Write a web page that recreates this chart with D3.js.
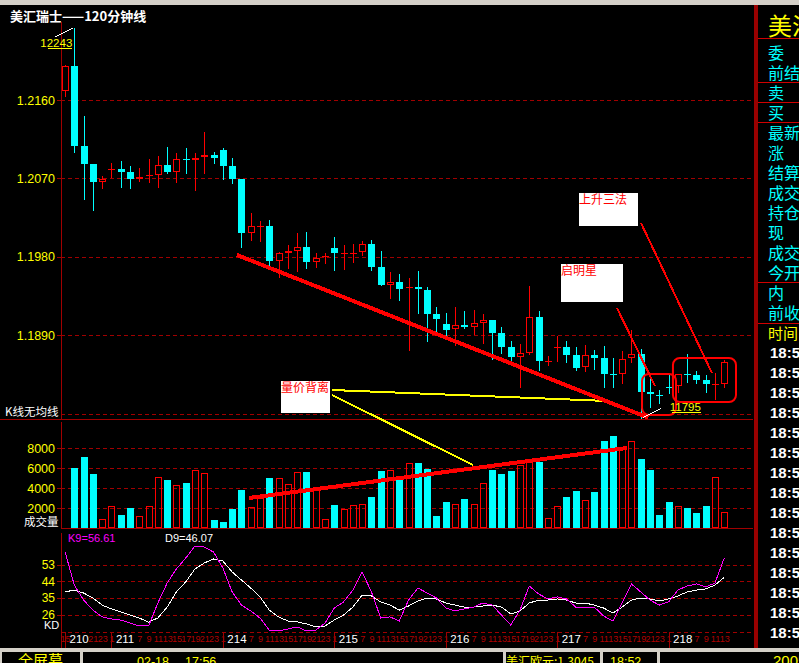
<!DOCTYPE html>
<html><head><meta charset="utf-8">
<script src="https://cdn.jsdelivr.net/npm/d3@7"></script>
<style>
html,body{margin:0;padding:0;background:#000;overflow:hidden}
svg{display:block}
</style></head><body>
<svg id="c" width="799" height="663"></svg>
<script>
// ---------------- data ----------------
const chartTitle = "美汇瑞士——120分钟线";
const open  = [1.2170,1.2199,1.2107,1.2086,1.2066,1.2080,1.2081,1.2077,1.2069,1.2073,1.2074,1.2085,1.2077,1.2092,1.2091,1.2095,1.2097,1.2103,1.2084,1.2069,1.2007,1.2015,1.2015,1.1975,1.1984,1.1987,1.1991,1.1974,1.1980,1.1990,1.1984,1.1984,1.1985,1.1995,1.1968,1.1947,1.1951,1.1944,1.1945,1.1942,1.1914,1.1903,1.1897,1.1901,1.1899,1.1904,1.1907,1.1892,1.1876,1.1865,1.1869,1.1911,1.1860,1.1876,1.1876,1.1867,1.1853,1.1867,1.1864,1.1845,1.1845,1.1864,1.1868,1.1825,1.1821,1.1830,1.1831,1.1845,1.1844,1.1838,1.1833,1.1834];
const high  = [1.2200,1.2243,1.2142,1.2086,1.2073,1.2088,1.2090,1.2084,1.2082,1.2092,1.2096,1.2106,1.2099,1.2105,1.2099,1.2123,1.2100,1.2105,1.2093,1.2069,1.2030,1.2021,1.2022,1.1985,1.1993,1.2007,1.2008,1.1984,1.1984,1.2003,1.1993,1.1995,1.1998,1.1999,1.1987,1.1962,1.1960,1.1955,1.1964,1.1945,1.1922,1.1915,1.1922,1.1918,1.1919,1.1914,1.1907,1.1899,1.1883,1.1880,1.1946,1.1918,1.1866,1.1889,1.1883,1.1876,1.1878,1.1873,1.1877,1.1864,1.1872,1.1896,1.1874,1.1841,1.1827,1.1844,1.1845,1.1868,1.1849,1.1844,1.1846,1.1861];
const low   = [1.2165,1.2100,1.2046,1.2034,1.2059,1.2072,1.2060,1.2059,1.2067,1.2066,1.2060,1.2076,1.2066,1.2076,1.2057,1.2076,1.2088,1.2069,1.2065,1.1991,1.1999,1.1998,1.1970,1.1957,1.1967,1.1964,1.1967,1.1968,1.1973,1.1965,1.1966,1.1974,1.1982,1.1965,1.1947,1.1932,1.1930,1.1873,1.1915,1.1883,1.1892,1.1889,1.1878,1.1898,1.1891,1.1881,1.1862,1.1869,1.1860,1.1830,1.1868,1.1850,1.1855,1.1860,1.1859,1.1850,1.1849,1.1851,1.1830,1.1830,1.1835,1.1859,1.1795,1.1807,1.1812,1.1823,1.1825,1.1836,1.1835,1.1825,1.1816,1.1830];
const close = [1.2199,1.2107,1.2086,1.2066,1.2069,1.2081,1.2077,1.2069,1.2072,1.20735,1.2085,1.2077,1.2092,1.20915,1.2093,1.2097,1.2093,1.2084,1.2069,1.2007,1.2015,1.20155,1.1975,1.1984,1.1987,1.1991,1.1974,1.1978,1.19805,1.1984,1.19845,1.19845,1.1995,1.1968,1.1947,1.1951,1.1943,1.1945,1.1943,1.1914,1.1908,1.1896,1.1901,1.1899,1.1904,1.1907,1.1892,1.1876,1.1865,1.1869,1.1911,1.1860,1.18605,1.18765,1.1867,1.1852,1.1867,1.1864,1.1845,1.18445,1.1862,1.1868,1.1825,1.1822,1.18205,1.18295,1.1845,1.18445,1.1838,1.1834,1.18335,1.1859];
const volume = [0,6030,7130,5430,900,2200,1330,2030,1200,2200,5100,4830,4300,4500,5800,5500,830,630,1930,3830,2100,3000,5030,5000,4400,5600,5630,4000,900,2300,1900,2270,2370,3130,5700,5800,4800,6470,6470,5900,1230,2600,2370,2900,2370,4470,5800,5400,5700,6270,6630,6630,970,2200,3130,3700,2800,3630,8700,9200,8100,8700,6900,5800,1300,2600,2200,2030,1530,2200,5070,1570];
const kValues = [59.9,41.9,33.8,28.4,24.7,23.6,23.0,21.4,19.8,19.8,32.2,43.0,50.6,56.5,63.0,62.4,59.7,51.1,38.2,31.1,27.9,24.1,17.6,17.1,18.2,19.3,17.1,17.6,21.4,29.5,32.8,39.2,49.0,38.2,24.1,24.7,22.5,33.8,40.3,37.6,34.9,29.5,27.9,29.0,30.0,32.2,31.1,25.7,20.3,28.4,41.4,37.1,34.4,35.5,34.4,30.0,30.0,30.0,25.2,22.5,32.2,42.5,38.2,33.8,31.1,32.8,39.2,41.4,42.5,40.9,43.0,56.61];
const dValues = [38.2,39.2,37.6,34.9,31.1,29.0,27.4,25.7,24.1,21.9,24.1,30.0,38.2,43.6,50.6,53.8,56.0,54.9,49.0,44.6,40.3,35.5,28.4,24.7,22.5,22.0,20.9,19.3,19.8,23.0,25.7,30.0,36.5,36.0,32.8,31.1,28.4,30.6,33.3,34.9,34.4,32.2,31.1,30.0,30.0,30.6,31.1,30.0,26.3,27.9,32.2,33.8,33.8,34.4,33.8,32.2,32.2,31.1,29.5,26.8,30.0,33.8,34.9,34.4,33.3,34.4,36.0,38.2,39.2,39.8,41.9,46.07];
const priceTicks  = [1.2160,1.2070,1.1980,1.1890];
const volumeTicks = [8000,6000,4000,2000];
const kdTicks     = [53,44,35,26];
const dayStarts = [0,5,17,29,41,53,65];
const dayLabels = ["210","211","214","215","216","217","218"];
const hourTicks = ["1","3","5","7","9","11","13","15","17","19","21","23"];
// annotations (data units: candle index, price or volume)
const priceTrend  = [[18.5,1.1982],[62.8,1.1795]];
const volumeTrend = [[19.8,3000],[60.5,8000]];
const yellowPrice = [[28.75,1.18268],[58.37,1.18142]];
const yellowVol   = [[28.75,13300],[43.94,6300]];
const noteArrows  = [[[59.44,1.19210],[63.54,1.18314]],[[62.03,1.20187],[69.67,1.18463]]];
const noteBoxes = [
  {text:"量价背离", i0:23.26, p0:1.18371, i1:28.54, p1:1.18004},
  {text:"启明星",   i0:53.41, p0:1.19716, i1:60.09, p1:1.19279},
  {text:"上升三法", i0:55.35, p0:1.20531, i1:61.71, p1:1.20152}
];
const focusBoxes = [
  {i0:62.14, p0:1.18452, i1:65.80, p1:1.17981},
  {i0:65.47, p0:1.18636, i1:72.26, p1:1.18130}
];
const quoteLabels = ["委","前结","卖","买","最新","涨","结算","成交","持仓","现","成交","今开","内","前收"];
const timeRows = ["18:52","18:52","18:52","18:52","18:52","18:52","18:52","18:52","18:52","18:52","18:52","18:52","18:52","18:52","18:52"];

// ---------------- drawing ----------------
const W=799,H=663;
const RED="#ff0000", CYAN="#00ffff", DK="#a00000", YEL="#ffff00", MAG="#ff00ff";
const CJK='"Noto Sans CJK SC",sans-serif', LAT='"Liberation Sans",Arial,sans-serif';
const svg=d3.select("#c").attr("shape-rendering","crispEdges");
svg.append("rect").attr("width",W).attr("height",H).attr("fill","#000");
svg.append("rect").attr("width",W).attr("height",5).attr("fill","#d4d0c8");

const L=61, R=753;
const N=open.length;
const x=d3.scaleLinear().domain([0,N-1]).range([65,724.3]);
const yP=d3.scaleLinear().domain([1.1890,1.2160]).range([335,100]);
const yV=d3.scaleLinear().domain([0,8000]).range([528,448]);
const yK=d3.scaleLinear().domain([26,53]).range([614.5,564.5]);

function hline(y,x1,x2,color,dash){
  const yy=Math.round(y)+0.5;
  const l=svg.append("line").attr("x1",x1).attr("x2",x2).attr("y1",yy).attr("y2",yy).attr("stroke",color);
  if(dash) l.attr("stroke-dasharray","4,3");
  return l;
}
// grid
priceTicks.forEach(t=>hline(yP(t),L,R,DK,true));
hline(414,L,R,DK,true);
hline(419,0,R,DK,false);
volumeTicks.forEach(t=>hline(yV(t),L,R,DK,true));
hline(yV(0),L,R,DK,false);
kdTicks.forEach(t=>hline(yK(t),L,R,DK,true));
hline(632,L,R,DK,true);
// left axis lines
[[22,419],[422,529],[533,648]].forEach(s=>svg.append("line").attr("x1",L+0.5).attr("x2",L+0.5).attr("y1",s[0]).attr("y2",s[1]).attr("stroke",DK));

function styleAxis(g,color,size,family){
  g.select(".domain").remove();
  g.selectAll("line").attr("stroke",DK);
  g.selectAll("text").attr("fill",color).attr("font-size",size).attr("font-family",family||LAT);
}
styleAxis(svg.append("g").attr("transform",`translate(${L},0)`)
  .call(d3.axisLeft(yP).tickValues(priceTicks).tickSize(4).tickPadding(2).tickFormat(d3.format(".4f"))),YEL,12.5);
styleAxis(svg.append("g").attr("transform",`translate(${L},0)`)
  .call(d3.axisLeft(yV).tickValues(volumeTicks).tickSize(4).tickPadding(2).tickFormat(d3.format("d"))),YEL,12.5);
styleAxis(svg.append("g").attr("transform",`translate(${L},0)`)
  .call(d3.axisLeft(yK).tickValues(kdTicks).tickSize(4).tickPadding(2).tickFormat(d3.format("d"))),YEL,12);

// panel labels
svg.append("text").attr("x",10).attr("y",21).attr("fill","#fff").attr("font-family",CJK).attr("font-weight","bold").attr("font-size",13).text(chartTitle);
svg.append("text").attr("x",5).attr("y",416).attr("fill","#fff").attr("font-family",CJK).attr("font-size",11.5).text("K线无均线");
svg.append("text").attr("x",24).attr("y",526).attr("fill","#fff").attr("font-family",CJK).attr("font-size",11.5).text("成交量");
svg.append("text").attr("x",44).attr("y",629).attr("fill","#fff").attr("font-family",LAT).attr("font-size",11).text("KD");
svg.append("text").attr("x",68).attr("y",542).attr("fill",MAG).attr("font-family",LAT).attr("font-size",11).text("K9="+kValues[N-1].toFixed(2));
svg.append("text").attr("x",165).attr("y",542).attr("fill","#fff").attr("font-family",LAT).attr("font-size",11).text("D9="+dValues[N-1].toFixed(2));

// candles
const gc=svg.append("g");
for(let i=0;i<N;i++){
  const cx=Math.round(x(i)), up=close[i]>=open[i], col=up?RED:CYAN;
  const top=Math.round(yP(Math.max(open[i],close[i]))), bot=Math.round(yP(Math.min(open[i],close[i])));
  gc.append("line").attr("x1",cx+0.5).attr("x2",cx+0.5).attr("y1",Math.round(yP(high[i]))).attr("y2",Math.round(yP(low[i]))+1).attr("stroke",col);
  if(bot-top<=1){
    gc.append("rect").attr("x",cx-3).attr("y",top).attr("width",7).attr("height",1).attr("fill",col);
  } else if(up){
    gc.append("rect").attr("x",cx-2.5).attr("y",top+0.5).attr("width",6).attr("height",bot-top-1).attr("fill","#000").attr("stroke",RED);
  } else {
    gc.append("rect").attr("x",cx-3).attr("y",top).attr("width",7).attr("height",bot-top).attr("fill",CYAN);
  }
}
// volume
const gv=svg.append("g");
for(let i=0;i<N;i++){
  if(!volume[i]) continue;
  const cx=Math.round(x(i)), up=close[i]>=open[i];
  const top=Math.round(yV(volume[i])), bot=Math.round(yV(0));
  if(up) gv.append("rect").attr("x",cx-2.5).attr("y",top+0.5).attr("width",6).attr("height",bot-top-1).attr("fill","none").attr("stroke",RED);
  else gv.append("rect").attr("x",cx-3).attr("y",top).attr("width",7).attr("height",bot-top).attr("fill",CYAN);
}
// KD lines
const idx=d3.range(N);
const kLine=d3.line().x(i=>x(i)).y(i=>yK(kValues[i]));
const dLine=d3.line().x(i=>x(i)).y(i=>yK(dValues[i]));
svg.append("path").attr("d",dLine(idx)).attr("fill","none").attr("stroke","#fff").attr("stroke-width",1);
svg.append("path").attr("d",kLine(idx)).attr("fill","none").attr("stroke",MAG).attr("stroke-width",1);

// date axis
const hourLabels = dayStarts.flatMap((s,k)=>{
  const e = k<dayStarts.length-1 ? dayStarts[k+1] : N, n=e-s, off = k===0 ? hourTicks.length-n : 0;
  return hourTicks.slice(off,off+n);
});
// hour labels hidden under the white date labels are left out
const hourIdx = idx.filter(i=>!dayStarts.some(s=>i===s+1||i===s+2));
const ah=svg.append("g").attr("transform","translate(0,632)")
  .call(d3.axisBottom(x).tickValues(hourIdx).tickSize(0).tickPadding(4).tickFormat(i=>hourLabels[i]));
ah.select(".domain").remove();
ah.selectAll("text").attr("fill","#b00000").attr("font-size",9).attr("font-family",'"Liberation Sans Narrow","Liberation Sans",sans-serif');
const ad=svg.append("g").attr("transform","translate(0,632)")
  .call(d3.axisBottom(x).tickValues(dayStarts).tickSize(16).tickFormat((d,i)=>dayLabels[i]));
ad.select(".domain").remove();
ad.selectAll("line").attr("stroke",DK);
ad.selectAll("text").attr("fill","#fff").attr("font-size",11.5).attr("font-family",LAT)
  .attr("text-anchor","start").attr("x",4).attr("y",3).attr("dy","0.71em");

// annotations
const ga=svg.append("g");
const P=(d)=>[x(d[0]),yP(d[1])], V=(d)=>[x(d[0]),yV(d[1])];
function seg(a,b,color,w){ga.append("line").attr("x1",a[0]).attr("y1",a[1]).attr("x2",b[0]).attr("y2",b[1]).attr("stroke",color).attr("stroke-width",w);}
seg(P(yellowPrice[0]),P(yellowPrice[1]),YEL,2);
seg(V(yellowVol[0]),V(yellowVol[1]),YEL,2);
seg(P(priceTrend[0]),P(priceTrend[1]),RED,4);
seg(V(volumeTrend[0]),V(volumeTrend[1]),RED,4);
noteArrows.forEach(a=>seg(P(a[0]),P(a[1]),RED,2));
noteBoxes.forEach(b=>{
  const x0=Math.round(x(b.i0)), y0=Math.round(yP(b.p0)), x1=Math.round(x(b.i1)), y1=Math.round(yP(b.p1));
  ga.append("rect").attr("x",x0).attr("y",y0).attr("width",x1-x0).attr("height",y1-y0).attr("fill","#fff");
  ga.append("text").attr("x",x0).attr("y",y0+11).attr("fill",RED).attr("font-family",CJK).attr("font-size",12).text(b.text);
});
focusBoxes.forEach(b=>{
  const x0=x(b.i0), y0=yP(b.p0), x1=x(b.i1), y1=yP(b.p1);
  ga.append("rect").attr("x",x0).attr("y",y0).attr("width",x1-x0).attr("height",y1-y0).attr("rx",7).attr("fill","none").attr("stroke",RED).attr("stroke-width",2).attr("shape-rendering","auto");
});
// high / low markers
const iMax=d3.maxIndex(high), iMin=d3.minIndex(low);
const hx=x(iMax), hy=yP(high[iMax]), lx=x(iMin), ly=yP(low[iMin]);
seg([hx-1,hy],[hx-19,hy+9],"#fff",1);
ga.append("text").attr("x",hx-2).attr("y",hy+19).attr("text-anchor","end").attr("fill",YEL).attr("font-family",LAT).attr("font-size",11.5).text(Math.round(high[iMax]*10000));
seg([hx-26,hy+20.5],[hx-2,hy+20.5],YEL,1);
seg([lx+2,ly],[lx+20,ly-9],"#fff",1);
ga.append("text").attr("x",lx+29).attr("y",ly-7).attr("fill",YEL).attr("font-family",LAT).attr("font-size",11.5).text(Math.round(low[iMin]*10000));
seg([lx+31,ly-5.5],[lx+60,ly-5.5],YEL,1);

// right quote panel
svg.append("rect").attr("x",754).attr("y",5).attr("width",3.5).attr("height",643).attr("fill","#990000");
svg.append("text").attr("x",768).attr("y",24).attr("dominant-baseline","central").attr("fill",YEL).attr("font-family",CJK).attr("font-size",24).text("美汇瑞士");
[38,82,102,122,282,323].forEach(y=>hline(y,758,W,"#d00000",false));
quoteLabels.forEach((t,k)=>svg.append("text").attr("x",768).attr("y",52+20*k).attr("dominant-baseline","central").attr("fill",CYAN).attr("font-family",CJK).attr("font-size",16).text(t));
svg.append("text").attr("x",768).attr("y",332).attr("dominant-baseline","central").attr("fill",YEL).attr("font-family",CJK).attr("font-size",15).text("时间");
timeRows.forEach((t,k)=>svg.append("text").attr("x",770).attr("y",352+20*k).attr("dominant-baseline","central").attr("fill","#fff").attr("font-family",LAT).attr("font-weight","bold").attr("font-size",15).text(t));

// status bar
svg.append("rect").attr("x",0).attr("y",648).attr("width",W).attr("height",15).attr("fill","#d4d0c8");
[[2,80],[83,503],[506,600],[603,657],[660,W]].forEach(b=>svg.append("rect").attr("x",b[0]).attr("y",652).attr("width",b[1]-b[0]).attr("height",11).attr("fill","#000"));
const st=(xx,t,fs,fam)=>svg.append("text").attr("x",xx).attr("y",666).attr("fill",YEL).attr("font-family",fam).attr("font-size",fs).text(t);
st(18,"全屏幕",15,CJK);
st(137,"02-18",12.5,LAT);
st(185,"17:56",12.5,LAT);
st(506,"美汇欧元:1.3045",12,CJK);
st(610,"18:52",12.5,LAT);
st(773,"2005",15,LAT);
</script>
</body></html>
